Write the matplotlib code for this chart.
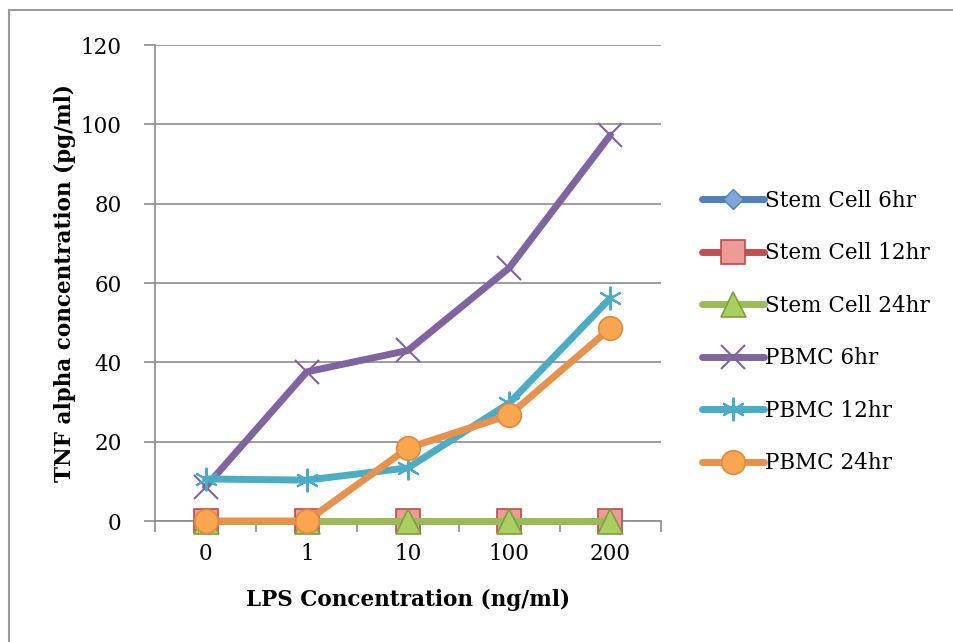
import matplotlib
matplotlib.use("Agg")
import matplotlib.pyplot as plt
from matplotlib.patches import Rectangle

# LPS dose categories and TNF-alpha readings (pg/ml)
lps_labels = ["0", "1", "10", "100", "200"]
stem_6hr = [0, 0, 0, 0, 0]
stem_12hr = [0, 0, 0, 0, 0]
stem_24hr = [0, 0, 0, 0, 0]
pbmc_6hr = [8.6, 37.6, 43.0, 63.8, 97.3]
pbmc_12hr = [10.6, 10.3, 13.4, 29.7, 56.2]
pbmc_24hr = [0, 0, 18.4, 26.7, 48.6]

series_names = ["Stem Cell 6hr", "Stem Cell 12hr", "Stem Cell 24hr",
                "PBMC 6hr", "PBMC 12hr", "PBMC 24hr"]

plt.rcParams["font.family"] = ["DejaVu Serif"]

fig = plt.figure(figsize=(9.54, 6.42), dpi=100)
W, H = 954, 642
ax = fig.add_axes([155 / W, 1 - 521 / H, (661 - 155) / W, (521 - 45) / H])

# outer chart border (runs off the right and bottom edges)
fig.patches.append(Rectangle((9 / W, -0.1), 1.2, 1 - 10 / H + 0.1,
                             transform=fig.transFigure, fill=False,
                             edgecolor="#9a9a9a", linewidth=1.5, zorder=0))

x = list(range(len(lps_labels)))
lw = 5.0
ms = 17

styles = [
    dict(color="#4F81BD", marker="D", markersize=10, markerfacecolor="#7FA6DA",
         markeredgecolor="#4F81BD", markeredgewidth=1),
    dict(color="#C0504D", marker="s", markersize=ms, markerfacecolor="#EE9A97",
         markeredgecolor="#BE4B48", markeredgewidth=1.2),
    dict(color="#9BBB59", marker="^", markersize=ms + 1, markerfacecolor="#A9D05E",
         markeredgecolor="#7F9E3E", markeredgewidth=1.2),
    dict(color="#8064A2", marker="x", markersize=ms, markeredgecolor="#8064A2",
         markeredgewidth=1.5),
    dict(color="#4BACC6", marker=(6, 2, 0), markersize=ms, markeredgecolor="#4BACC6",
         markeredgewidth=1.5),
    dict(color="#E8914A", marker="o", markersize=ms, markerfacecolor="#F9A64F",
         markeredgecolor="#E08A40", markeredgewidth=1.2),
]
data = [stem_6hr, stem_12hr, stem_24hr, pbmc_6hr, pbmc_12hr, pbmc_24hr]

handles = []
for i, (vals, st, name) in enumerate(zip(data, styles, series_names)):
    h, = ax.plot(x, vals, linewidth=lw, solid_capstyle="round",
                 solid_joinstyle="round", label=name, zorder=3 + i,
                 clip_on=False, **st)
    handles.append(h)

ax.set_xlim(-0.5, len(lps_labels) - 0.5)
ax.set_ylim(0, 120)
ax.set_yticks(range(0, 121, 20))
ax.set_xticks(x)
ax.set_xticklabels(lps_labels)
ax.set_xticks([i - 0.5 for i in range(len(lps_labels) + 1)], minor=True)

grid_c = "#8c8c8c"
ax.yaxis.grid(True, color=grid_c, linewidth=1.2)
ax.set_axisbelow(True)
for s in ["top", "right"]:
    ax.spines[s].set_visible(False)
for s in ["left", "bottom"]:
    ax.spines[s].set_color(grid_c)
    ax.spines[s].set_linewidth(1.2)

ax.tick_params(axis="y", which="major", length=8, width=1.2, color=grid_c,
               labelsize=15.5, pad=16)
ax.tick_params(axis="x", which="major", length=0, labelsize=15.5, pad=16)
ax.tick_params(axis="x", which="minor", length=8, width=1.2, color=grid_c)

ax.set_xlabel("LPS Concentration (ng/ml)", fontsize=15.5, fontweight="bold",
              labelpad=17)
ax.set_ylabel("TNF alpha concentration (pg/ml)", fontsize=15.5,
              fontweight="bold", labelpad=3)

leg = fig.legend(handles=handles, labels=series_names, loc="upper left",
                 bbox_to_anchor=(693 / W, 1 - 181 / H), frameon=False,
                 fontsize=15.5, handlelength=2.9, handletextpad=0.05,
                 labelspacing=1.42, borderaxespad=0)

fig.savefig("out.png", dpi=100)
